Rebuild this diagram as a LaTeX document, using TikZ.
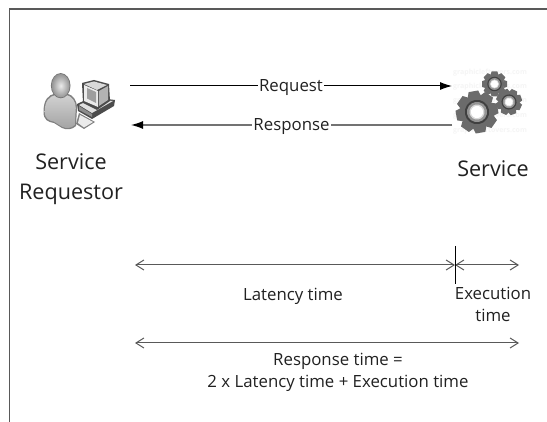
\documentclass[tikz,border=0pt]{standalone}
\usepackage{fontspec}
\setmainfont{Open Sans}
\usetikzlibrary{arrows.meta,shadings}
\definecolor{ink}{gray}{0.13}
\definecolor{lineg}{gray}{0.35}
\tikzset{
  x=1pt,y=-1pt,
  frameline/.style={draw=black!65,line width=1.2pt},
  msg/.style={draw=black,line width=1pt,-{Latex[length=12pt,width=8pt]}},
  msgb/.style={draw=black!55,line width=1.2pt,-{Latex[length=12pt,width=8pt,black]}},
  span/.style={draw=lineg,line width=1pt,{Straight Barb[length=8pt,width=10pt]}-{Straight Barb[length=8pt,width=10pt]}},
  big/.style={font=\fontsize{21.6}{30}\selectfont,text=ink,align=center,inner sep=0pt},
  lab/.style={font=\fontsize{16.8}{21.5}\selectfont,text=ink,align=center,inner sep=0pt},
  onl/.style={lab,fill=white,inner xsep=1pt,inner ysep=0pt,yshift=-1.5pt},
}
\newcommand{\geardraw}[4]{% x y outer-radius rotation
  \begin{scope}[shift={(#1,#2)},rotate=#4]
    \foreach \a in {0,45,...,315}{
      \fill[black!58,rotate=\a] (-0.23*#3,-1.0*#3) -- (0.23*#3,-1.0*#3) -- (0.33*#3,-0.7*#3) -- (-0.33*#3,-0.7*#3) -- cycle;
    }
    \fill[black!58] (0,0) circle[radius=0.78*#3];
    \fill[black!75] (0,0) circle[radius=0.58*#3];
    \fill[black!42] (0,0) circle[radius=0.48*#3];
    \fill[black!15] (0,0) circle[radius=0.36*#3];
    \fill[white] (0,0) circle[radius=0.29*#3];
  \end{scope}
}
\begin{document}
\begin{tikzpicture}
\useasboundingbox (0,0) rectangle (547,422);
\fill[white] (0,0) rectangle (547,422);
% frame
\coordinate (ftr) at (547,9);
\coordinate (ftl) at (9.5,9);
\coordinate (fbl) at (9.5,422);
\draw[frameline] (ftr) -- (ftl) -- (fbl);
% person
\fill[black!50] (43.5,112) .. controls (43.5,100) and (48,95) .. (55,93.5) -- (67,93.5) .. controls (73,95) and (77,100) .. (77,108) -- (76,126) .. controls (72,130) and (66,130) .. (62,128) -- (54,123) .. controls (48,122) and (43.5,120) .. (43.5,112) -- cycle;
\shade[top color=black!18,bottom color=black!36] (44.7,112) .. controls (44.7,101) and (49,96.5) .. (56,94.8) -- (66,94.8) .. controls (72,96.5) and (75.8,101) .. (75.8,108) -- (74.8,125) .. controls (71,128.7) and (66,128.7) .. (62,126.7) -- (54,121.7) .. controls (49,120.7) and (44.7,118.5) .. (44.7,112) -- cycle;
\fill[black!55] (60.7,85.7) ellipse[x radius=9.8,y radius=12.6];
\shade[inner color=black!8,outer color=black!42] (60.7,85.7) ellipse[x radius=9,y radius=11.8];
% keyboard
\fill[black!50] (79,113) -- (95,122) -- (84,129) -- (76,124) -- cycle;
\fill[black!8] (80,115) -- (93,122) -- (84,127.5) -- (78,123) -- cycle;
% computer base
\fill[black!70] (77,104) -- (92,97) -- (115,100) -- (114,106) -- (92,119) -- (78,111) -- cycle;
\fill[black!12] (79,105) -- (92,99) -- (113,101) -- (92,113) -- cycle;
\fill[black!45] (79,106) -- (92,114) -- (92,117) -- (79,110) -- cycle;
% monitor
\fill[black!70] (82,83) -- (94,80) -- (109,84) -- (110,101) -- (97,110) -- (83,103) -- cycle;
\fill[black!15] (84,84) -- (94,81.5) -- (107,85) -- (97,90) -- cycle;
\fill[black!8] (84,85) -- (98,91) -- (98,107) -- (84,101) -- cycle;
\fill[black!38] (87,88) -- (96,92) -- (96,103) -- (87,98.5) -- cycle;
\fill[black!30] (99,91) -- (108,86) -- (108,100) -- (99,106) -- cycle;
% watermark
\foreach \yy in {73,87,101,116,131}
  \node[text=black!4,font=\fontsize{7}{8}\selectfont\bfseries,inner sep=0pt] at (490,\yy) {graphicleftovers.com};
% gears
\geardraw{477}{112}{21}{10}
\geardraw{494.5}{84}{12.5}{0}
\geardraw{509}{102}{13}{20}
% anchors
\coordinate (reqA) at (130,86);
\coordinate (reqB) at (452,86);
\coordinate (resA) at (452,125);
\coordinate (resB) at (131,125);
\draw[msg] (reqA) -- node[onl] (request) {Request} (reqB);
\draw[msgb] (resA) -- node[onl] (response) {Response} (resB);
\node[big] (svcreq) at (71,179) {Service\\Requestor};
\node[big] (svc) at (493,169) {Service};
% spans
\coordinate (latA) at (135,265);
\coordinate (latB) at (455,265);
\coordinate (exeB) at (519,265);
\coordinate (tickT) at (455,246);
\coordinate (tickB) at (455,284);
\coordinate (totA) at (135,343);
\coordinate (totB) at (519,343);
\draw[span] (latA) -- (latB);
\draw[span] (latB) -- (exeB);
\draw[draw=black,line width=0.9pt] (tickT) -- (tickB);
\draw[span] (totA) -- (totB);
\node[lab] (lat) at (293,296) {Latency time};
\node[lab] (exe) at (493,304.5) {Execution\\time};
\node[lab] (resp) at (338,372.5) {Response time =\\2 x Latency time + Execution time};
\end{tikzpicture}
\end{document}
